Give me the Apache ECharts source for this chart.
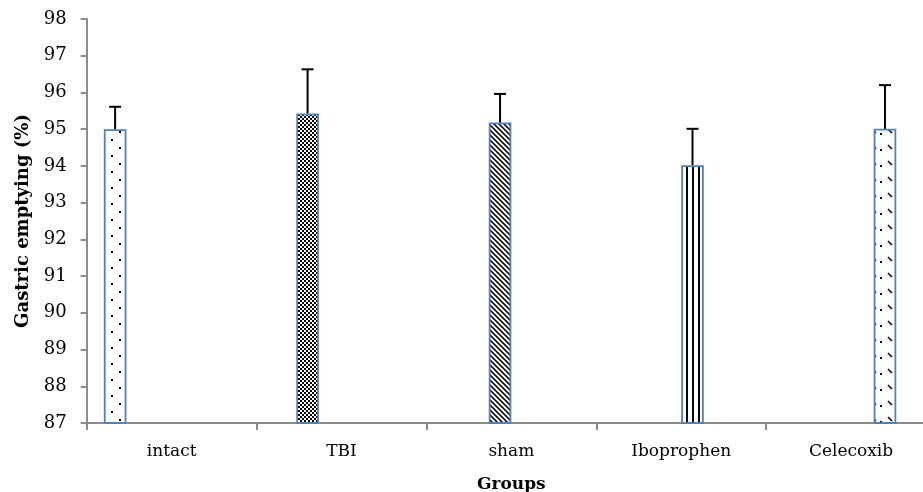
<!DOCTYPE html>
<html>
<head>
<meta charset="utf-8">
<script src="https://cdn.jsdelivr.net/npm/echarts@6/dist/echarts.min.js"></script>
<style>
html,body{margin:0;padding:0;background:#fff;}
#chart{width:923px;height:492px;}
</style>
</head>
<body>
<div id="chart"></div>
<script>
// ---- data ----
const groups = ['intact', 'TBI', 'sham', 'Iboprophen', 'Celecoxib'];
const means = [95.0, 95.43, 95.18, 94.02, 95.01];
const errors = [0.61, 1.2, 0.78, 0.99, 1.19];
const yMin = 87, yMax = 98, yStep = 1;
const xTitle = 'Groups';
const yTitle = 'Gastric emptying (%)';

// ---- patterns (styles) ----
function makePattern(w, h, draw) {
  const c = document.createElement('canvas');
  c.width = w; c.height = h;
  const ctx = c.getContext('2d');
  ctx.fillStyle = '#fff'; ctx.fillRect(0, 0, w, h);
  ctx.fillStyle = '#000'; ctx.strokeStyle = '#000';
  draw(ctx);
  return { image: c, repeat: 'repeat' };
}
const patterns = [
  makePattern(16, 16, ctx => { ctx.fillRect(7, 3, 2, 2); ctx.fillRect(15, 11, 2, 2); ctx.fillRect(-1, 11, 2, 2); }),
  makePattern(4, 4, ctx => { ctx.fillRect(0, 0, 2, 2); ctx.fillRect(2, 2, 2, 2); }),
  makePattern(5, 5, ctx => {
    for (let i = -5; i <= 10; i++) { ctx.fillRect(i, i, 1.6, 1.6); ctx.fillRect(i + 5, i, 1.6, 1.6); ctx.fillRect(i - 5, i, 1.6, 1.6); }
  }),
  makePattern(6.4, 8, ctx => { ctx.fillRect(2, 0, 2, 8); }),
  makePattern(16, 16, ctx => {
    ctx.lineWidth = 1.6;
    ctx.beginPath(); ctx.moveTo(8, 1); ctx.lineTo(12, 5); ctx.stroke();
    ctx.fillRect(0, 5, 2, 2);
  })
];

const BAR_W = 22.6;
const NSLOT = 6; // Excel layout reserves six bar slots per category

const barSeries = [];
for (let s = 0; s < NSLOT; s++) {
  barSeries.push({
    type: 'bar',
    name: s < groups.length ? groups[s] : '',
    barWidth: BAR_W,
    barGap: '0%',
    data: groups.map((g, i) => (i === s ? means[i] : null)),
    itemStyle: {
      color: s < patterns.length ? patterns[s] : 'transparent',
      borderColor: '#4F81BD',
      borderWidth: 1.8
    },
    silent: true
  });
}

const errData = groups.map((g, i) => [i, means[i], errors[i]]);
const errSeries = {
  type: 'custom',
  data: errData,
  z: 5,
  renderItem: function (params, api) {
    const idx = api.value(0);
    const m = api.value(1);
    const e = api.value(2);
    const base = api.coord([idx, m]);
    const top = api.coord([idx, m + e]);
    const x = base[0] - (NSLOT * BAR_W) / 2 + BAR_W * (idx + 0.5);
    const half = 6;
    return {
      type: 'group',
      children: [
        { type: 'line', shape: { x1: x, y1: base[1], x2: x, y2: top[1] }, style: { stroke: '#000', lineWidth: 2 } },
        { type: 'line', shape: { x1: x - half, y1: top[1], x2: x + half, y2: top[1] }, style: { stroke: '#000', lineWidth: 2 } }
      ]
    };
  }
};

const chart = echarts.init(document.getElementById('chart'), null, { renderer: 'canvas' });
chart.setOption({
  animation: false,
  backgroundColor: '#fff',
  grid: { left: 86.7, top: 19, width: 849.3, height: 404, containLabel: false, outerBoundsMode: 'none' },
  xAxis: {
    type: 'category',
    data: groups,
    name: xTitle,
    nameLocation: 'middle',
    nameGap: 53,
    nameTextStyle: { fontFamily: 'DejaVu Serif', fontWeight: 'bold', fontSize: 17, color: '#000' },
    axisLine: { lineStyle: { color: '#8c8c8c', width: 2 } },
    axisTick: { show: true, length: 7, lineStyle: { color: '#8c8c8c', width: 2 }, alignWithLabel: false, interval: 0 },
    axisLabel: { interval: 0, margin: 20, fontFamily: 'DejaVu Serif', fontSize: 17, color: '#000' },
    splitLine: { show: false }
  },
  yAxis: {
    type: 'value',
    min: yMin, max: yMax, interval: yStep,
    name: yTitle,
    nameLocation: 'middle',
    nameGap: 54,
    nameTextStyle: { fontFamily: 'DejaVu Serif', fontWeight: 'bold', fontSize: 18, color: '#000' },
    axisLine: { show: true, lineStyle: { color: '#8c8c8c', width: 2 } },
    axisTick: { show: true, length: 6, lineStyle: { color: '#8c8c8c', width: 2 } },
    axisLabel: { margin: 20, fontFamily: 'DejaVu Serif', fontSize: 18, color: '#000' },
    splitLine: { show: false }
  },
  series: barSeries.concat([errSeries])
});
</script>
</body>
</html>
